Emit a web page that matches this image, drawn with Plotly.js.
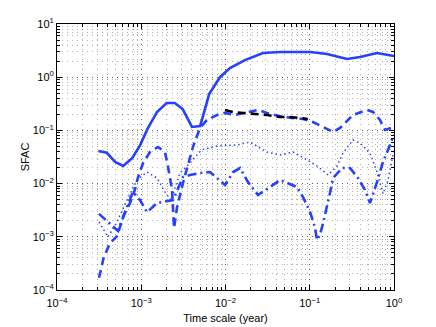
<!DOCTYPE html>
<html>
<head>
<meta charset="utf-8">
<script src="https://cdn.plot.ly/plotly-3.0.1.min.js"></script>
<style>
  html, body { margin: 0; padding: 0; background: #fff; }
  #chart { width: 436px; height: 327px; }
</style>
</head>
<body>
<div id="chart"></div>
<script>
// values (log-log)
var solidX = [3.1e-4, 3.9e-4, 4.9e-4, 6.1e-4, 7.8e-4, 9.7e-4, 1.2e-3, 1.54e-3, 2.0e-3, 2.5e-3, 3.1e-3, 4.0e-3, 5.0e-3, 6.4e-3, 8.6e-3, 1.13e-2, 1.7e-2, 2.79e-2, 4.44e-2, 0.101, 0.16, 0.277, 0.395, 0.628, 1.0];
var solidY = [0.041, 0.038, 0.0255, 0.0214, 0.030, 0.053, 0.111, 0.222, 0.327, 0.327, 0.252, 0.116, 0.121, 0.48, 1.0, 1.49, 2.10, 2.85, 2.98, 2.98, 2.73, 2.20, 2.40, 2.85, 2.5];

var dashX = [3.15e-4, 3.6e-4, 4.26e-4, 5.15e-4, 6.24e-4, 7.35e-4, 8.4e-4, 9.1e-4, 1.05e-3, 1.27e-3, 1.58e-3, 1.91e-3, 2.08e-3, 2.32e-3, 2.45e-3, 2.66e-3, 3.13e-3, 3.79e-3, 4.11e-3, 4.98e-3, 6.03e-3, 7.93e-3, 9.87e-3, 1.30e-2, 1.95e-2, 2.43e-2, 3.11e-2, 4.81e-2, 8.32e-2, 0.109, 0.144, 0.189, 0.229, 0.326, 0.478, 0.564, 0.682, 0.782, 1.0];
var dashY = [1.7e-4, 4.2e-4, 7.6e-4, 1.03e-3, 2.6e-3, 4.3e-3, 7.6e-3, 1.27e-2, 2.44e-2, 3.93e-2, 4.88e-2, 3.93e-2, 2.05e-2, 7.6e-3, 1.46e-3, 3.6e-3, 1.03e-2, 3.16e-2, 4.9e-2, 0.111, 0.157, 0.195, 0.213, 0.195, 0.222, 0.242, 0.213, 0.179, 0.164, 0.144, 0.116, 0.0933, 0.111, 0.195, 0.242, 0.222, 0.157, 0.102, 0.116];

var blackX = [9.87e-3, 1.23e-2, 1.61e-2, 2.24e-2, 3.11e-2, 4.44e-2, 5.83e-2, 7.66e-2, 9.5e-2];
var blackY = [0.242, 0.222, 0.213, 0.204, 0.195, 0.179, 0.179, 0.171, 0.164];

var dotX = [3.15e-4, 4.03e-4, 5.15e-4, 6.77e-4, 8.91e-4, 1.17e-3, 1.54e-3, 1.91e-3, 2.25e-3, 2.88e-3, 3.79e-3, 5.2e-3, 7.93e-3, 1.37e-2, 1.95e-2, 3.11e-2, 4.44e-2, 6.33e-2, 9.27e-2, 0.122, 0.165, 0.211, 0.248, 0.326, 0.395, 0.519, 0.628, 0.74, 0.849, 1.0];
var dotY = [0.0019, 0.00099, 0.0019, 0.0049, 0.0117, 0.0165, 0.0127, 0.0070, 0.0049, 0.0158, 0.0244, 0.043, 0.0509, 0.0532, 0.0605, 0.0393, 0.0345, 0.0393, 0.0278, 0.0214, 0.0145, 0.0214, 0.0376, 0.066, 0.058, 0.0376, 0.0165, 0.0064, 0.0117, 0.043];

var ddX = [3.15e-4, 4.62e-4, 5.3e-4, 6.41e-4, 7.98e-4, 9.66e-4, 1.17e-3, 1.54e-3, 2.02e-3, 2.38e-3, 3.13e-3, 3.79e-3, 4.98e-3, 6.55e-3, 7.93e-3, 9.87e-3, 1.23e-2, 1.49e-2, 1.85e-2, 2.43e-2, 3.38e-2, 4.44e-2, 7.06e-2, 8.32e-2, 0.101, 0.115, 0.122, 0.132, 0.144, 0.160, 0.174, 0.189, 0.242, 0.301, 0.374, 0.453, 0.519, 0.628, 0.740, 0.849, 1.0];
var ddY = [2.7e-3, 1.55e-3, 1.29e-3, 2.9e-3, 7.0e-3, 4.9e-3, 2.9e-3, 4.3e-3, 4.7e-3, 4.9e-3, 1.33e-2, 1.45e-2, 1.58e-2, 1.65e-2, 1.27e-2, 9.4e-3, 1.65e-2, 1.96e-2, 1.07e-2, 6.1e-3, 8.6e-3, 1.17e-2, 8.6e-3, 5.6e-3, 2.9e-3, 1.53e-3, 8.7e-4, 1.08e-3, 1.8e-3, 3.5e-3, 6.7e-3, 1.27e-2, 1.96e-2, 1.96e-2, 1.27e-2, 7.6e-3, 4.3e-3, 1.07e-2, 2.55e-2, 4.3e-2, 8.2e-2];

var xTickVals = [1e-4, 1e-3, 1e-2, 1e-1, 1];
var xTickText = ["10<sup>\u22124</sup>", "10<sup>\u22123</sup>", "10<sup>\u22122</sup>", "10<sup>\u22121</sup>", "10<sup>0</sup>"];
var yTickVals = [1e-4, 1e-3, 1e-2, 1e-1, 1, 10];
var yTickText = ["10<sup>\u22124</sup>", "10<sup>\u22123</sup>", "10<sup>\u22122</sup>", "10<sup>\u22121</sup>", "10<sup>0</sup>", "10<sup>1</sup>"];

var blue = "#2540ff";
var font = "Liberation Sans, Arial, sans-serif";

var traces = [
  { x: dotX, y: dotY, mode: "lines", line: { color: blue, width: 1.5, dash: "1.5px,3px" } },
  { x: ddX, y: ddY, mode: "lines", line: { color: blue, width: 2.6, dash: "9px,4px,2px,4px" } },
  { x: dashX, y: dashY, mode: "lines", line: { color: blue, width: 2.6, dash: "8px,5px" } },
  { x: blackX, y: blackY, mode: "lines", line: { color: "#000", width: 2.6, dash: "8px,5px" } },
  { x: solidX, y: solidY, mode: "lines", line: { color: blue, width: 2.6 } }
];

var axisCommon = {
  type: "log",
  showline: true,
  linecolor: "#000",
  linewidth: 1,
  mirror: "ticks",
  ticks: "inside",
  ticklen: 5,
  tickcolor: "#000",
  showgrid: true,
  gridcolor: "rgba(0,0,0,0.45)",
  griddash: "1px,4px",
  gridwidth: 1,
  zeroline: false,
  tickfont: { family: font, size: 11, color: "#000" },
  minor: {
    dtick: "D1",
    ticks: "inside",
    ticklen: 3,
    tickcolor: "#000",
    showgrid: true,
    gridcolor: "rgba(0,0,0,0.3)",
    griddash: "1px,4px",
    gridwidth: 1
  }
};

var layout = {
  width: 436,
  height: 327,
  margin: { l: 57, r: 42, t: 24, b: 37 },
  paper_bgcolor: "#fff",
  plot_bgcolor: "#fff",
  showlegend: false,
  xaxis: Object.assign({}, axisCommon, {
    range: [-4, 0],
    tickmode: "array",
    tickvals: xTickVals,
    ticktext: xTickText,
    ticklabelstandoff: 3,
    title: { text: "Time scale (year)", font: { family: font, size: 11, color: "#000" }, standoff: 6 }
  }),
  yaxis: Object.assign({}, axisCommon, {
    range: [-4, 1],
    tickmode: "array",
    tickvals: yTickVals,
    ticktext: yTickText,
    title: { text: "SFAC", font: { family: font, size: 11, color: "#000" }, standoff: 0 }
  })
};

Plotly.newPlot("chart", traces, layout, { displayModeBar: false, staticPlot: true });
</script>
</body>
</html>
